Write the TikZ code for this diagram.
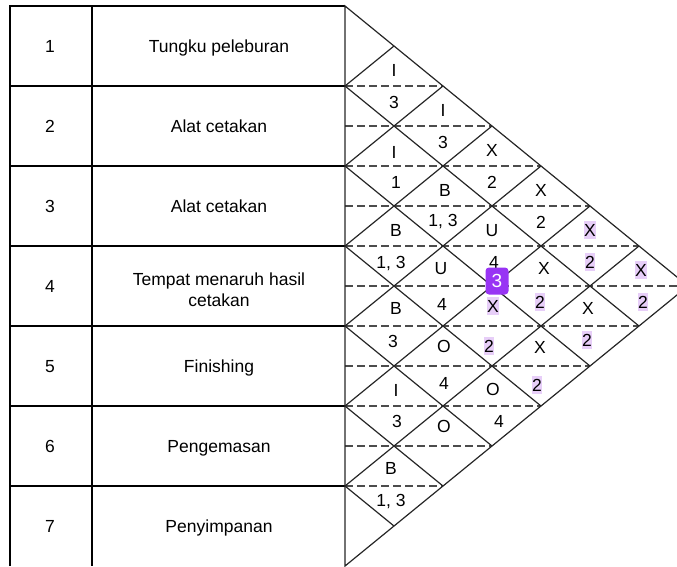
\documentclass[tikz,border=0pt]{standalone}
\usepackage{fontspec}
\setmainfont{Liberation Sans}
\usepackage{xcolor}
\usepackage{tikz}

\definecolor{markbg}{RGB}{231,206,248}
\definecolor{badgebg}{RGB}{152,52,244}

\begin{document}
\begin{tikzpicture}[x=1pt,y=1pt,
	rule/.style={draw=black, line width=1.3pt},
	grid/.style={draw=black!85, line width=1.2pt},
	half/.style={draw=black!70, line width=1.2pt, dash pattern=on 8pt off 4pt},
	cell/.style={text height=12.6pt, text depth=0pt},
	marked/.style={cell, fill=markbg, inner xsep=0.6pt, inner ysep=2.6pt}]
	\tikzstyle{every node}+=[inner sep=0pt, font=\fontsize{17.5}{21}\selectfont]
	\useasboundingbox (0,0) rectangle (677,-566);
	% table of departments
	\draw [rule] (10,-566) -- (10,-6) -- (345,-6);
	\draw [rule] (92,-6) -- (92,-566);
	\draw [rule] (10,-86) -- (345,-86);
	\draw [rule] (10,-166) -- (345,-166);
	\draw [rule] (10,-246) -- (345,-246);
	\draw [rule] (10,-326) -- (345,-326);
	\draw [rule] (10,-406) -- (345,-406);
	\draw [rule] (10,-486) -- (345,-486);
	\node [cell] (n1) at (50,-46) {1};
	\node [cell] (t1) at (219,-46) {Tungku peleburan};
	\node [cell] (n2) at (50,-126) {2};
	\node [cell] (t2) at (219,-126) {Alat cetakan};
	\node [cell] (n3) at (50,-206) {3};
	\node [cell] (t3) at (219,-206) {Alat cetakan};
	\node [cell] (n4) at (50,-286) {4};
	\node [align=center] (t4) at (219,-290) {Tempat menaruh hasil\\cetakan};
	\node [cell] (n5) at (50,-366) {5};
	\node [cell] (t5) at (219,-366) {Finishing};
	\node [cell] (n6) at (50,-446) {6};
	\node [cell] (t6) at (219,-446) {Pengemasan};
	\node [cell] (n7) at (50,-526) {7};
	\node [cell] (t7) at (219,-526) {Penyimpanan};
	% grid points of the chart
	\coordinate (L0) at (345,-6);
	\coordinate (L1) at (345,-86);
	\coordinate (L2) at (345,-166);
	\coordinate (L3) at (345,-246);
	\coordinate (L4) at (345,-326);
	\coordinate (L5) at (345,-406);
	\coordinate (L6) at (345,-486);
	\coordinate (L7) at (345,-566);
	\coordinate (U1) at (394,-46);
	\coordinate (U2) at (443,-86);
	\coordinate (U3) at (492,-126);
	\coordinate (U4) at (541,-166);
	\coordinate (U5) at (590,-206);
	\coordinate (U6) at (639,-246);
	\coordinate (apex) at (688,-286);
	\coordinate (D1) at (639,-326);
	\coordinate (D2) at (590,-366);
	\coordinate (D3) at (541,-406);
	\coordinate (D4) at (492,-446);
	\coordinate (D5) at (443,-486);
	\coordinate (D6) at (394,-526);
	% half lines
	\draw [half] (L1) -- (U2);
	\draw [half] (L1 |- U3) -- (U3);
	\draw [half] (L2) -- (U4);
	\draw [half] (L2 |- U5) -- (U5);
	\draw [half] (L3) -- (U6);
	\draw [half] (L3 |- apex) -- (apex);
	\draw [half] (L4) -- (D1);
	\draw [half] (L4 |- D2) -- (D2);
	\draw [half] (L5) -- (D3);
	\draw [half] (L5 |- D4) -- (D4);
	\draw [half] (L6) -- (D5);
	% diamonds
	\draw [grid] (L0) -- (apex) -- (L7) -- cycle;
	\draw [grid] (L1) -- (U1);
	\draw [grid] (L2) -- (U2);
	\draw [grid] (L3) -- (U3);
	\draw [grid] (L4) -- (U4);
	\draw [grid] (L5) -- (U5);
	\draw [grid] (L6) -- (U6);
	\draw [grid] (L1) -- (D1);
	\draw [grid] (L2) -- (D2);
	\draw [grid] (L3) -- (D3);
	\draw [grid] (L4) -- (D4);
	\draw [grid] (L5) -- (D5);
	\draw [grid] (L6) -- (D6);
	% ratings (top) and reasons (bottom)
	\node [cell] (a12) at (394,-70) {I};
	\node [cell] (b12) at (394,-102) {3};
	\node [cell] (a13) at (443,-110) {I};
	\node [cell] (b13) at (443,-142) {3};
	\node [cell] (a14) at (492,-150) {X};
	\node [cell] (b14) at (492,-182) {2};
	\node [cell] (a15) at (541,-190) {X};
	\node [cell] (b15) at (541,-222) {2};
	\node [marked] (a16) at (590,-230) {X};
	\node [marked] (b16) at (590,-262) {2};
	\node [marked] (a17) at (641,-270) {X};
	\node [marked] (b17) at (643,-302) {2};
	\node [cell] (a23) at (394,-152) {I};
	\node [cell] (b23) at (396,-182) {1};
	\node [cell] (a24) at (445,-190) {B};
	\node [cell] (b24) at (443,-220) {1, 3};
	\node [cell] (a25) at (492,-230) {U};
	\node [cell] (b25) at (494,-262) {4};
	\node [cell] (a26) at (544,-268) {X};
	\node [marked] (b26) at (540,-302) {2};
	\node [cell] (a27) at (588,-308) {X};
	\node [marked] (b27) at (587,-340) {2};
	\node [cell] (a34) at (396,-230) {B};
	\node [cell] (b34) at (391,-262) {1, 3};
	\node [cell] (a35) at (441,-268) {U};
	\node [cell] (b35) at (442,-304) {4};
	\node [marked] (a36) at (493,-306) {X};
	\node [marked] (b36) at (489,-346) {2};
	\node [cell] (a37) at (540,-347) {X};
	\node [marked] (b37) at (537,-385) {2};
	\node [cell] (a45) at (396,-308) {B};
	\node [cell] (b45) at (393,-341) {3};
	\node [cell] (a46) at (444,-346) {O};
	\node [cell] (b46) at (444,-383) {4};
	\node [cell] (a47) at (493,-389) {O};
	\node [cell] (b47) at (499,-421) {4};
	\node [cell] (a56) at (396,-390) {I};
	\node [cell] (b56) at (397,-421) {3};
	\node [cell] (a57) at (444,-426) {O};
	\node [cell] (a67) at (391,-468) {B};
	\node [cell] (b67) at (391,-500) {1, 3};
	% comment badge
	\node [fill=badgebg, text=white, rounded corners=3.5pt, minimum width=23pt, minimum height=27pt, font=\fontsize{19}{22}\selectfont] (badge) at (497,-281) {3};
\end{tikzpicture}
\end{document}
